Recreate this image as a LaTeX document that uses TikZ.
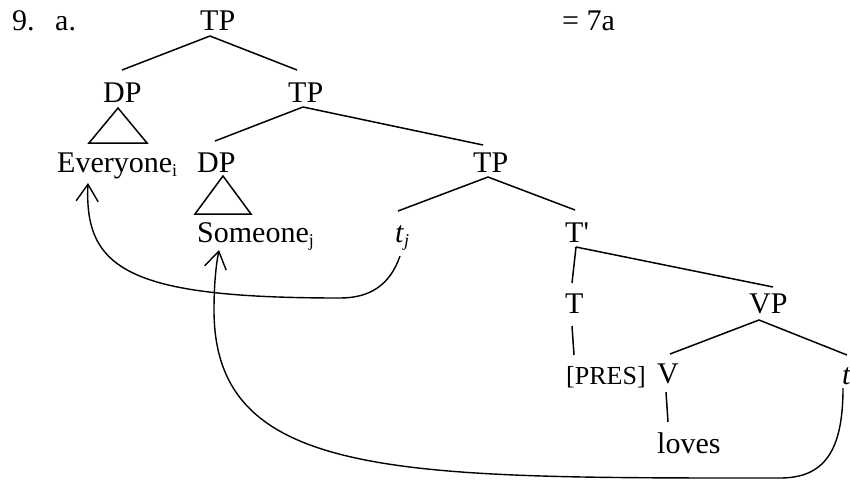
\documentclass[tikz,border=0pt]{standalone}
\usepackage{fontspec}
\setmainfont{Liberation Serif}
\usetikzlibrary{arrows.meta}
\newcommand\mysub[1]{\raisebox{-4pt}{\fontsize{18}{18}\selectfont #1}}
\begin{document}
\begin{tikzpicture}[x=1pt,y=-1pt,
  lbl/.style={anchor=base west, inner sep=0pt, font=\fontsize{30}{34}\selectfont},
  smalllbl/.style={anchor=base west, inner sep=0pt, font=\fontsize{26}{30}\selectfont},
  branch/.style={line width=1.5pt},
  movearrow/.style={line width=1.4pt, -{Straight Barb[length=17pt,width=22pt]}}]
\useasboundingbox (0,0) rectangle (850,482);
% labels
\node[lbl] (num) at (12,30) {9.};
\node[lbl] (let) at (55,30) {a.};
\node[lbl] (tp1) at (200,30) {TP};
\node[lbl] (eq) at (562,30) {= 7a};
\node[lbl] (dp1) at (103,102) {DP};
\node[lbl] (tp2) at (288,102) {TP};
\node[lbl] (every) at (57,172) {Everyone\mysub{i}};
\node[lbl] (dp2) at (197,172) {DP};
\node[lbl] (tp3) at (473,172) {TP};
\node[lbl] (some) at (197,242) {Someone\mysub{j}};
\node[lbl] (tj) at (395,242) {\textit{t}\mysub{\textit{j}}};
\node[lbl] (tbar) at (565,242) {T\textquotesingle};
\node[lbl] (tt) at (565,313) {T};
\node[lbl] (vp) at (749,313) {VP};
\node[smalllbl] (pres) at (566,384) {[PRES]};
\node[lbl] (vv) at (657,383) {V};
\node[lbl] (trace) at (842,384) {\textit{t}};
\node[lbl] (loves) at (657,453) {loves};
% branches
\draw[branch] ([shift={(10,6)}]tp1.base west) -- ([shift={(19,-32)}]dp1.base west);
\draw[branch] ([shift={(10,6)}]tp1.base west) -- ([shift={(9,-32)}]tp2.base west);
\draw[branch] ([shift={(15,5)}]tp2.base west) -- ([shift={(18,-31)}]dp2.base west);
\draw[branch] ([shift={(15,5)}]tp2.base west) -- ([shift={(10,-27)}]tp3.base west);
\draw[branch] ([shift={(15,5)}]tp3.base west) -- ([shift={(3,-31)}]tj.base west);
\draw[branch] ([shift={(15,5)}]tp3.base west) -- ([shift={(10,-32)}]tbar.base west);
\draw[branch] ([shift={(11,5)}]tbar.base west) -- ([shift={(7,-30)}]tt.base west);
\draw[branch] ([shift={(11,5)}]tbar.base west) -- ([shift={(24,-26)}]vp.base west);
\draw[branch] ([shift={(7,13)}]tt.base west) -- ([shift={(8,-29)}]pres.base west);
\draw[branch] ([shift={(10,7)}]vp.base west) -- ([shift={(13,-29)}]vv.base west);
\draw[branch] ([shift={(10,7)}]vp.base west) -- ([shift={(5,-29)}]trace.base west);
\draw[branch] ([shift={(9,9)}]vv.base west) -- ([shift={(11,-31)}]loves.base west);
% triangles
\draw[branch] ([shift={(15,6)}]dp1.base west) -- ++(-29,35) -- ++(58,0) -- cycle;
\draw[branch] ([shift={(26,4)}]dp2.base west) -- ++(-28,38) -- ++(56,0) -- cycle;
% movement arrows
\draw[movearrow] ([shift={(5,14)}]tj.base west)
  .. controls (390,285) and (370,298) .. (340,298)
  .. controls (130,298) and (84,270) .. ([shift={(31,11)}]every.base west);
\draw[movearrow] ([shift={(1,4)}]trace.base west)
  .. controls (843,450) and (825,478) .. (780,478)
  .. controls (400,478) and (214,480) .. (214,310)
  .. controls (214,285) and (216,265) .. ([shift={(22,8)}]some.base west);
\end{tikzpicture}
\end{document}
